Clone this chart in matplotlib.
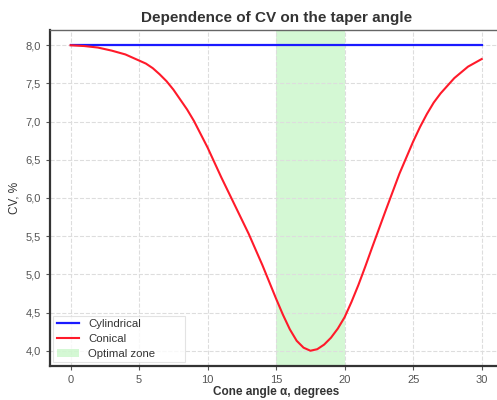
import matplotlib
matplotlib.use("Agg")
import matplotlib.pyplot as plt
from matplotlib.ticker import FuncFormatter

plt.rcParams['font.family'] = ['Liberation Sans', 'DejaVu Sans']

# angle values (degrees) and CV readings (%)
angle = [0, 1, 2, 3, 4, 5, 5.5, 6, 6.5, 7, 7.5, 8, 8.5, 9, 10, 11, 12, 13, 14,
         15, 15.5, 16, 16.5, 17, 17.5, 18, 18.5, 19, 19.5, 20, 20.5, 21, 21.5,
         22, 23, 24, 25, 25.5, 26, 26.5, 27, 28, 29, 30]
cv_conical = [8.00, 7.99, 7.97, 7.93, 7.88, 7.80, 7.76, 7.70, 7.62, 7.53, 7.42,
              7.29, 7.16, 7.01, 6.66, 6.27, 5.90, 5.53, 5.12, 4.68, 4.47, 4.28,
              4.13, 4.04, 4.00, 4.02, 4.08, 4.17, 4.29, 4.44, 4.64, 4.86, 5.10,
              5.35, 5.84, 6.32, 6.74, 6.93, 7.10, 7.25, 7.37, 7.57, 7.72, 7.82]
cv_cyl = [8.0] * len(angle)
opt_zone = (15, 20)

fig = plt.figure(figsize=(4.97, 4.0), dpi=100)
ax = fig.add_axes([0.1006, 0.085, 0.91, 0.84])

ax.axvspan(opt_zone[0], opt_zone[1], color='#90ee90', alpha=0.38, lw=0, label='Optimal zone')
ax.plot(angle, cv_cyl, color='#1a1aff', lw=1.6, label='Cylindrical')
ax.plot(angle, cv_conical, color='#ff1a2a', lw=1.5, label='Conical')

ax.set_xticks([0, 5, 10, 15, 20, 25, 30])
ax.set_yticks([4.0, 4.5, 5.0, 5.5, 6.0, 6.5, 7.0, 7.5, 8.0])
ax.yaxis.set_major_formatter(FuncFormatter(lambda v, p: ('%.1f' % v).replace('.', ',')))
ax.set_xlim(-1.5, 31.5)
ax.set_ylim(3.8, 8.2)

ax.grid(True, ls='--', color='#dddddd', lw=0.8)
ax.tick_params(labelsize=8, colors='#555555', length=3)
for s in ['left', 'bottom']:
    ax.spines[s].set_color('#333333')
    ax.spines[s].set_linewidth(1.6)
for s in ['top', 'right']:
    ax.spines[s].set_color('#666666')
    ax.spines[s].set_linewidth(1.0)

ax.set_title('Dependence of CV on the taper angle', fontsize=11, fontweight='bold', color='#333333', pad=6)
ax.set_xlabel('Cone angle α, degrees', fontsize=8.5, fontweight='bold', color='#333333', labelpad=1)
ax.set_ylabel('CV, %', fontsize=8.5, color='#333333', labelpad=4)

h, l = ax.get_legend_handles_labels()
order = [1, 2, 0]
leg = ax.legend([h[i] for i in order], [l[i] for i in order], loc='lower left',
                bbox_to_anchor=(0.007, 0.012, 0.292, 0.14), mode='expand',
                fontsize=8.2, frameon=True, fancybox=False, borderaxespad=0.0,
                borderpad=0.3, handlelength=2.0, labelspacing=0.42)
leg.get_frame().set_edgecolor('#dddddd')
leg.get_frame().set_linewidth(0.8)
for t in leg.get_texts():
    t.set_color('#333333')

fig.savefig('out.png', dpi=100)
